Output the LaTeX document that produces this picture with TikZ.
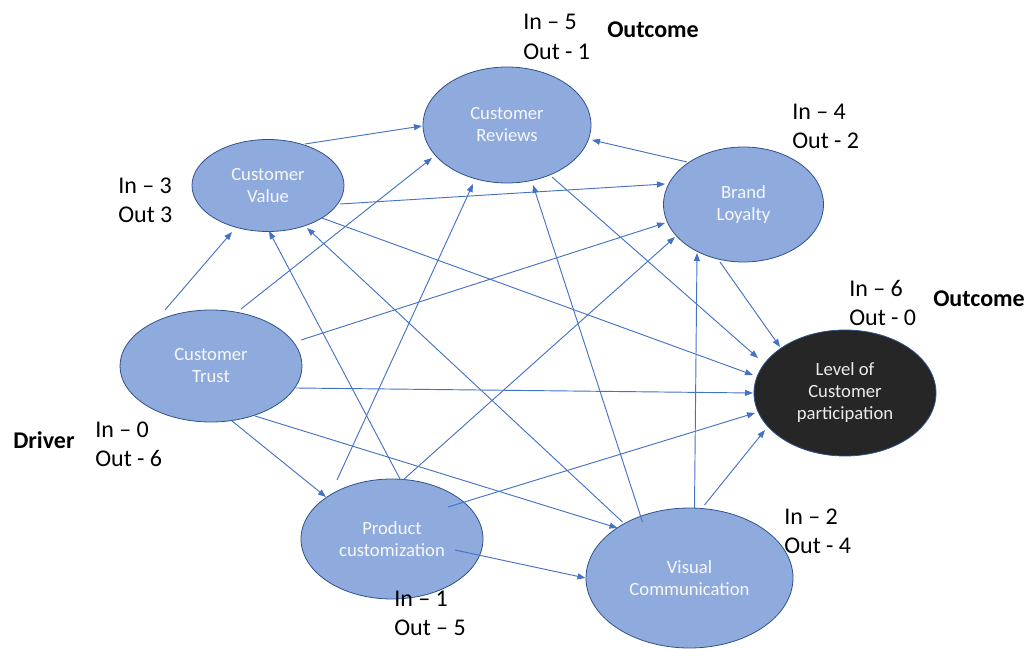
\documentclass[tikz,border=0pt]{standalone}
\usepackage{fontspec}
\setmainfont{Carlito}
\usetikzlibrary{shapes.geometric,arrows.meta}
\definecolor{nodefill}{HTML}{8FAADC}
\definecolor{nodeedge}{HTML}{2F528F}
\definecolor{linkblue}{HTML}{4472C4}
\definecolor{darkfill}{HTML}{262626}

\begin{document}
\begin{tikzpicture}[x=0.75pt,y=-0.75pt,
  factor/.style={ellipse, draw=nodeedge, line width=0.6pt, fill=nodefill,
    text=white!92!nodefill, font=\fontsize{14}{16.5}\selectfont, align=center, inner sep=0pt},
  outcomenode/.style={factor, fill=darkfill, text=white!92!black},
  link/.style={draw=linkblue, line width=0.7pt, -{Triangle[length=6pt,width=4.5pt]}},
  count/.style={anchor=base west, font=\fontsize{18}{22}\selectfont, inner sep=0pt},
  role/.style={anchor=base west, font=\fontsize{18}{22}\selectfont\bfseries, inner sep=0pt}]

\useasboundingbox (0,0) rectangle (1026,649);

% factors
\node[factor, minimum width=126pt, minimum height=87pt] (rev) at (507,125) {Customer\\Reviews};
\node[factor, minimum width=114pt, minimum height=69pt] (val) at (268,185.5) {Customer\\Value};
\node[factor, minimum width=120pt, minimum height=86.25pt] (bl) at (743.5,204.5) {Brand\\Loyalty};
\node[factor, minimum width=136.5pt, minimum height=84pt] (tr) at (211,366) {Customer\\Trust};
\node[outcomenode, minimum width=136.5pt, minimum height=94.5pt] (lev) at (845,393) {Level of\\Customer\\participation};
\node[factor, minimum width=136.5pt, minimum height=90pt] (pc) at (392,539) {Product\\customization};
\node[factor, minimum width=155.25pt, minimum height=105pt] (vc) at (689.5,578) {Visual\\Communication};

% links
\draw[link] ([shift={(37,-41.5)}]val.center) -- ([shift={(-85,1)}]rev.center);
\draw[link] ([shift={(72,18.5)}]val.center) -- ([shift={(-78.5,-20.5)}]bl.center);
\draw[link] ([shift={(54,32.5)}]val.center) -- ([shift={(-92,-18)}]lev.center);

\draw[link] ([shift={(-46,-56)}]tr.center) -- ([shift={(-36,46.5)}]val.center);
\draw[link] ([shift={(30,-57)}]tr.center) -- ([shift={(-75,33)}]rev.center);
\draw[link] ([shift={(90,-26)}]tr.center) -- ([shift={(-78.5,18.5)}]bl.center);
\draw[link] ([shift={(85,22)}]tr.center) -- ([shift={(-92,0)}]lev.center);
\draw[link] ([shift={(21,55)}]tr.center) -- ([shift={(-66,-42)}]pc.center);
\draw[link] ([shift={(44,50)}]tr.center) -- ([shift={(-72,-50)}]vc.center);

\draw[link] ([shift={(-55,-59)}]pc.center) -- ([shift={(-34,59)}]rev.center);
\draw[link] ([shift={(8,-60)}]pc.center) -- ([shift={(1,45.5)}]val.center);
\draw[link] ([shift={(11,-59)}]pc.center) -- ([shift={(-68.5,32.5)}]bl.center);
\draw[link] ([shift={(56,-32)}]pc.center) -- ([shift={(-90,20)}]lev.center);
\draw[link] ([shift={(63,11)}]pc.center) -- ([shift={(-104,0)}]vc.center);

\draw[link] ([shift={(-67,-56)}]vc.center) -- ([shift={(39,42.5)}]val.center);
\draw[link] ([shift={(-47,-56)}]vc.center) -- ([shift={(26,60)}]rev.center);
\draw[link] ([shift={(5,-70)}]vc.center) -- ([shift={(-46.5,48.5)}]bl.center);
\draw[link] ([shift={(15,-73)}]vc.center) -- ([shift={(-80,37)}]lev.center);

\draw[link] ([shift={(45,52)}]rev.center) -- ([shift={(-87,-35)}]lev.center);
\draw[link] ([shift={(-56.5,-42.5)}]bl.center) -- ([shift={(85,15)}]rev.center);
\draw[link] ([shift={(-23.5,57.5)}]bl.center) -- ([shift={(-65,-46)}]lev.center);

% in/out counts
\node[count] (revin)  at (523,30)  {In – 5};
\node[count] (revout) at (523,60)  {Out - 1};
\node[role]  (revrole) at (607,38) {Outcome};

\node[count] (blin)  at (792,120) {In – 4};
\node[count] (blout) at (792,149) {Out - 2};

\node[count] (valin)  at (118,194) {In – 3};
\node[count] (valout) at (118,223) {Out 3};

\node[count] (levin)  at (849,297) {In – 6};
\node[count] (levout) at (849,326) {Out - 0};
\node[role]  (levrole) at (933,307) {Outcome};

\node[role]  (trrole) at (13,448) {Driver};
\node[count] (trin)  at (95,437) {In – 0};
\node[count] (trout) at (95,466) {Out - 6};

\node[count] (vcin)  at (784,524) {In – 2};
\node[count] (vcout) at (784,553) {Out - 4};

\node[count] (pcin)  at (394,606) {In – 1};
\node[count] (pcout) at (394,635) {Out – 5};

\end{tikzpicture}
\end{document}
